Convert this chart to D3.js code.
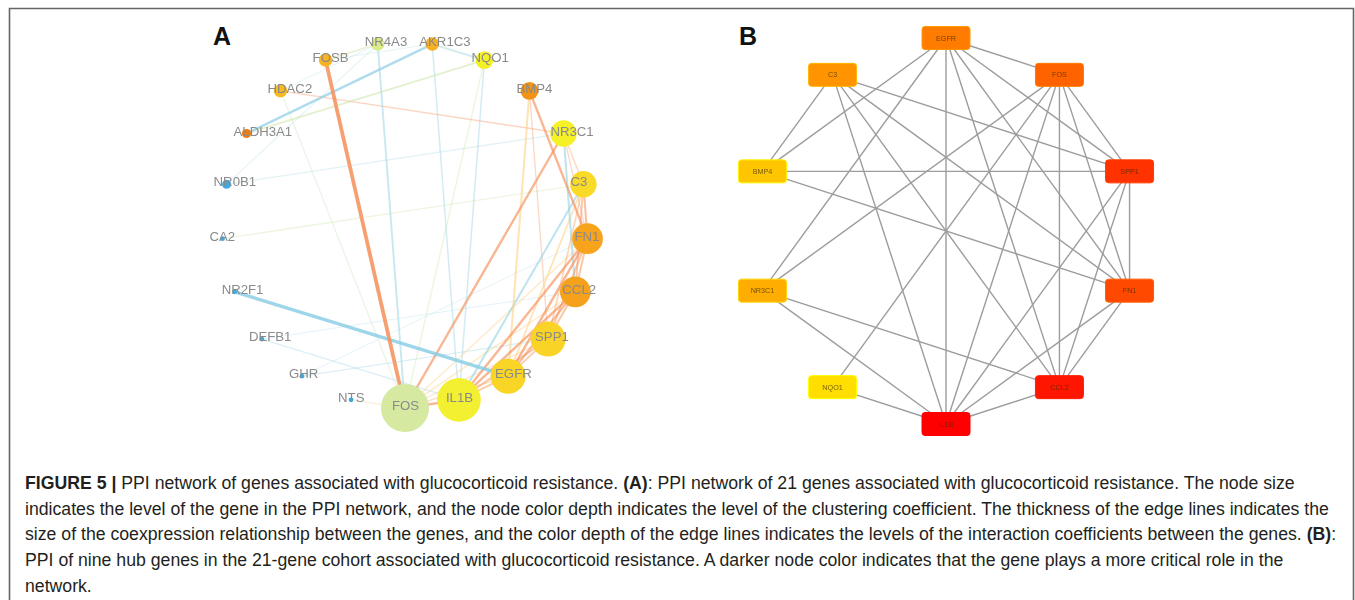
<!DOCTYPE html>
<html>
<head>
<meta charset="utf-8">
<script src="https://cdn.jsdelivr.net/npm/d3@7"></script>
<style>
  html, body { margin: 0; padding: 0; background: #fff; }
  svg { display: block; }
</style>
</head>
<body>
<svg id="fig" width="1355" height="600"></svg>
<script>
// ---------- Panel A: 21 genes, circular order (clockwise from the bottom) ----------
const genesA = ["FOS","NTS","GHR","DEFB1","NR2F1","CA2","NR0B1","ALDH3A1","HDAC2","FOSB","NR4A3",
                "AKR1C3","NQO1","BMP4","NR3C1","C3","FN1","CCL2","SPP1","EGFR","IL1B"];
// node degree (drives node size)
const degreeA = [11,1,1,1,1,1,2,2,3,3,3,3,4,4,6,6,7,7,8,8,10];
// clustering coefficient (drives node colour)
const clusteringA = [0.30,0,0,0,0,0,0,1.0,0.64,0.66,0.33,0.67,0.46,0.80,0.45,0.55,0.71,0.72,0.57,0.565,0.44];

// edges: [gene, gene, coexpression weight, interaction coefficient]
const edgesA = [
  ["NR0B1","NR4A3",0.22,0.10], ["HDAC2","NR4A3",0.22,0.20], ["FOSB","AKR1C3",0.22,0.20],
  ["GHR","FN1",0.2,0.10],      ["DEFB1","CCL2",0.2,0.10],
  ["NR0B1","NR3C1",0.28,0.20], ["CA2","C3",0.28,0.35], ["DEFB1","IL1B",0.28,0.10],
  ["GHR","SPP1",0.28,0.10],    ["NTS","FOS",0.28,0.50], ["HDAC2","FOS",0.28,0.30],
  ["NQO1","FOS",0.3,0.35],     ["BMP4","SPP1",0.3,0.90], ["NR3C1","C3",0.3,0.90],
  ["NR3C1","FN1",0.3,0.90],    ["SPP1","FOS",0.3,0.70], ["HDAC2","NR3C1",0.32,0.90],
  ["AKR1C3","IL1B",0.35,0.10], ["NQO1","IL1B",0.35,0.10], ["FN1","FOS",0.35,0.60],
  ["CCL2","FOS",0.35,0.60],    ["EGFR","FOS",0.35,0.70],
  ["NR4A3","FOSB",0.4,0.35],   ["C3","SPP1",0.4,0.75],
  ["NQO1","ALDH3A1",0.45,0.35], ["AKR1C3","NQO1",0.45,0.20],
  ["NR4A3","FOS",0.45,0.10],   ["C3","CCL2",0.45,0.85], ["SPP1","EGFR",0.45,0.80],
  ["C3","EGFR",0.45,0.60],
  ["NR3C1","CCL2",0.5,0.08],   ["C3","IL1B",0.5,0.08], ["SPP1","IL1B",0.5,0.80],
  ["C3","FN1",0.5,0.85],       ["FN1","SPP1",0.5,0.80], ["FN1","CCL2",0.5,0.80],
  ["CCL2","SPP1",0.5,0.80],    ["EGFR","IL1B",0.5,0.75],
  ["BMP4","EGFR",0.5,0.60],    ["CCL2","EGFR",0.55,0.85],
  ["AKR1C3","ALDH3A1",0.6,0.05], ["NR3C1","FOS",0.6,0.85], ["BMP4","FN1",0.6,0.85],
  ["FN1","IL1B",0.6,0.85],     ["FN1","EGFR",0.6,0.85], ["CCL2","IL1B",0.6,0.85],
  ["IL1B","FOS",0.6,0.85],
  ["NR2F1","EGFR",0.9,0.05],   ["FOSB","FOS",1.0,0.85]
];

// ---------- Panel B: hub genes ----------
const hubGenes = ["EGFR","FOS","SPP1","FN1","CCL2","IL1B","NQO1","NR3C1","BMP4","C3"];
const hubRank  = [6,5,3,4,2,1,10,8,9,7];
const edgesB = [
  ["EGFR","FOS"],["EGFR","BMP4"],["EGFR","NR3C1"],["EGFR","IL1B"],["EGFR","CCL2"],["EGFR","FN1"],["EGFR","SPP1"],
  ["FOS","NR3C1"],["FOS","NQO1"],["FOS","IL1B"],["FOS","CCL2"],["FOS","FN1"],["FOS","SPP1"],
  ["C3","BMP4"],["C3","SPP1"],["C3","IL1B"],["C3","CCL2"],["C3","FN1"],
  ["BMP4","SPP1"],["BMP4","FN1"],
  ["NR3C1","CCL2"],["NR3C1","IL1B"],
  ["NQO1","IL1B"],
  ["IL1B","SPP1"],["IL1B","FN1"],["IL1B","CCL2"],
  ["SPP1","FN1"],["SPP1","CCL2"],
  ["FN1","CCL2"]
];

// ---------- caption ----------
const captionLines = [
  [["FIGURE 5 |", true], [" PPI network of genes associated with glucocorticoid resistance. ", false], ["(A)", true],
   [": PPI network of 21 genes associated with glucocorticoid resistance. The node size", false]],
  [["indicates the level of the gene in the PPI network, and the node color depth indicates the level of the clustering coefficient. The thickness of the edge lines indicates the", false]],
  [["size of the coexpression relationship between the genes, and the color depth of the edge lines indicates the levels of the interaction coefficients between the genes. ", false], ["(B)", true], [":", false]],
  [["PPI of nine hub genes in the 21-gene cohort associated with glucocorticoid resistance. A darker node color indicates that the gene plays a more critical role in the", false]],
  [["network.", false]]
];

const svg = d3.select("#fig");
const defs = svg.append("defs");
defs.append("filter").attr("id", "softA").attr("x", "-5%").attr("y", "-5%").attr("width", "110%").attr("height", "110%")
  .append("feGaussianBlur").attr("stdDeviation", 0.45);
defs.append("filter").attr("id", "softB").attr("x", "-5%").attr("y", "-5%").attr("width", "110%").attr("height", "110%")
  .append("feGaussianBlur").attr("stdDeviation", 0.35);

// frame
svg.append("path")
  .attr("d", "M9.5,600 V8.5 H1353.5 V600")
  .attr("fill", "none").attr("stroke", "#666").attr("stroke-width", 1.6);

// ================= Panel A =================
const gA = svg.append("g").attr("filter", "url(#softA)");
const cxA = 405, cyA = 225, RA = 183;
const angA = d3.scaleLinear().domain([0, genesA.length]).range([Math.PI / 2, Math.PI / 2 + 2 * Math.PI]);
const rA = d3.scaleLinear().domain([1, 11]).range([2.4, 24]);
const nodeColA = d3.scaleLinear()
  .domain([0, 0.3, 0.45, 0.55, 0.7, 0.8, 1])
  .range(["#3fa9e0", "#d5e9a0", "#f5f128", "#f9da28", "#f7a520", "#f39312", "#f07c10"]);
const edgeColA = d3.scaleLinear()
  .domain([0, 0.2, 0.35, 0.6, 0.85, 1])
  .range(["#7ec8e5", "#a9d9e0", "#c9e4a2", "#fdcf7e", "#f5935f", "#f48c58"]);
const edgeW = d3.scaleLinear().domain([0.2, 1]).range([1, 3.8]);
const edgeOp = d3.scaleLinear().domain([0.2, 0.6, 1]).range([0.25, 0.68, 0.88]);

const nodesA = genesA.map((g, i) => ({
  id: g,
  x: cxA + RA * Math.cos(angA(i)),
  y: cyA + RA * Math.sin(angA(i)),
  r: rA(degreeA[i]),
  c: nodeColA(clusteringA[i])
}));
const byA = new Map(nodesA.map(n => [n.id, n]));

gA.append("g").selectAll("line").data(edgesA).join("line")
  .attr("x1", d => byA.get(d[0]).x).attr("y1", d => byA.get(d[0]).y)
  .attr("x2", d => byA.get(d[1]).x).attr("y2", d => byA.get(d[1]).y)
  .attr("stroke", d => edgeColA(d[3]))
  .attr("stroke-width", d => edgeW(d[2]))
  .attr("stroke-opacity", d => edgeOp(d[2]));

gA.append("g").selectAll("circle").data(nodesA).join("circle")
  .attr("cx", d => d.x).attr("cy", d => d.y).attr("r", d => d.r)
  .attr("fill", d => d.c);

gA.append("g").selectAll("text").data(nodesA).join("text")
  .attr("x", d => d.x - 13).attr("y", d => d.y + 2)
  .attr("font-family", "Liberation Sans, Arial, sans-serif")
  .attr("font-size", 13.2)
  .attr("fill", "#8a8a8a")
  .text(d => d.id);

svg.append("text").attr("x", 213).attr("y", 45)
  .attr("font-family", "Liberation Sans, Arial, sans-serif").attr("font-weight", "bold")
  .attr("font-size", 25).attr("fill", "#111").text("A");

// ================= Panel B =================
const gB = svg.append("g").attr("filter", "url(#softB)");
const cxB = 946, cyB = 231, RB = 193;
const angB = d3.scaleLinear().domain([0, hubGenes.length]).range([-Math.PI / 2, 1.5 * Math.PI]);
const hubCol = d3.scaleLinear().domain([1, 10]).range(["#ff0000", "#ffde00"]);
const nodesB = hubGenes.map((g, i) => ({
  id: g,
  x: cxB + RB * Math.cos(angB(i)),
  y: cyB + RB * Math.sin(angB(i)),
  c: hubCol(hubRank[i])
}));
const byB = new Map(nodesB.map(n => [n.id, n]));

gB.append("g").selectAll("line").data(edgesB).join("line")
  .attr("x1", d => byB.get(d[0]).x).attr("y1", d => byB.get(d[0]).y)
  .attr("x2", d => byB.get(d[1]).x).attr("y2", d => byB.get(d[1]).y)
  .attr("stroke", "#9c9c9c").attr("stroke-width", 1.4);

const boxW = 48, boxH = 23;
const nB = gB.append("g").selectAll("g").data(nodesB).join("g")
  .attr("transform", d => `translate(${d.x},${d.y})`);
nB.append("rect")
  .attr("x", -boxW / 2).attr("y", -boxH / 2).attr("width", boxW).attr("height", boxH)
  .attr("rx", 3).attr("fill", d => d.c)
  .attr("stroke", d => d3.color(d.c).brighter(0.6)).attr("stroke-width", 1);
nB.append("text")
  .attr("text-anchor", "middle").attr("dy", "0.35em")
  .attr("font-family", "Liberation Sans, Arial, sans-serif").attr("font-size", 7.2)
  .attr("fill", "#3a2a10").attr("fill-opacity", 0.7)
  .text(d => d.id);

svg.append("text").attr("x", 739).attr("y", 45)
  .attr("font-family", "Liberation Sans, Arial, sans-serif").attr("font-weight", "bold")
  .attr("font-size", 25).attr("fill", "#111").text("B");

// ================= Caption =================
const capX = 25, capY0 = 489, capStep = 25.7, capTarget = 1305;
const capTexts = captionLines.map((segs, i) => {
  const t = svg.append("text")
    .attr("font-family", "Liberation Sans, Arial, sans-serif")
    .attr("font-size", 17.5).attr("fill", "#231f20")
    .attr("xml:space", "preserve").style("white-space", "pre");
  segs.forEach(([s, b]) => t.append("tspan").attr("font-weight", b ? "bold" : null).text(s));
  return t;
});
// horizontal condensing so the longest line spans the caption width
const w2 = capTexts[1].node().getComputedTextLength();
const sx = capTarget / w2;
capTexts.forEach((t, i) => t.attr("transform", `translate(${capX},${capY0 + i * capStep}) scale(${sx},1)`));
</script>
</body>
</html>
